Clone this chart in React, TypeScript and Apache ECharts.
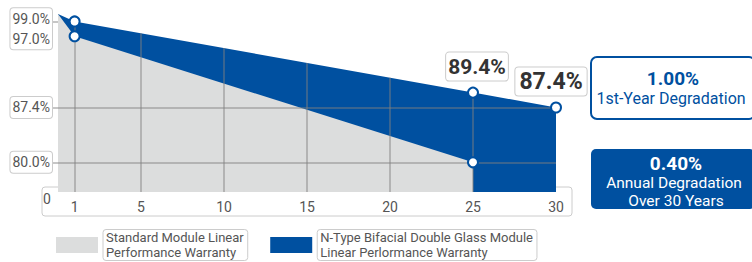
import React, { useEffect, useRef } from "react";
import * as echarts from "echarts";

const BLUE = "#0050a0";
const GRAY_AREA = "#dcdddd";
const GRID_COLOR = "rgba(128,128,128,0.6)";
const FONT = "Roboto, 'Noto Sans', sans-serif";

// ---- data ----
const nTypeYears = [0, 1, 25, 30];
const nTypeValues = [100, 99.0, 89.4, 87.4];
const standardYears = [0, 1, 25];
const standardValues = [100, 97.0, 80.0];
const nTypeLabelYears = [25, 30];

const xLabelValues = [1, 5, 10, 15, 20, 25, 30];
const xGridValues = [1, 5, 10, 15, 20, 25];
const yTickValues = [80.0, 87.4, 99.0];
const yGridValues = [80.0, 87.4];
const yLabelValues = [80.0, 87.4, 98.0];
const yLabelTexts = ["80.0%", "87.4%", "99.0%\n97.0%"];

const X_MIN = 0;
const X_MAX = 30;
const Y_MIN = 76;
const Y_MAX = 100;

const seriesNames = [
  "Standard Module Linear Performance Warranty",
  "N-Type Bifacial Double Glass Module Linear Perlormance Warranty",
];
const legendTexts = [
  "Standard Module Linear\nPerformance Warranty",
  "N-Type Bifacial Double Glass Module\nLinear Perlormance Warranty",
];

const infoFirstValue = "1.00%";
const infoFirstText = "1st-Year Degradation";
const infoAnnualValue = "0.40%";
const infoAnnualText = ["Annual Degradation", "Over 30 Years"];

function topOfArea(x: number): number {
  for (let i = 0; i < nTypeYears.length - 1; i++) {
    const x0 = nTypeYears[i];
    const x1 = nTypeYears[i + 1];
    if (x >= x0 && x <= x1) {
      const t = (x - x0) / (x1 - x0);
      return nTypeValues[i] + t * (nTypeValues[i + 1] - nTypeValues[i]);
    }
  }
  return nTypeValues[nTypeValues.length - 1];
}

export default function App() {
  const ref = useRef<HTMLDivElement>(null);

  useEffect(() => {
    document.body.style.margin = "0";
    if (!ref.current) return;
    const chart = echarts.init(ref.current, null, { renderer: "svg" });

    const nTypeData = nTypeYears.map((x, i) => [x, nTypeValues[i]]);
    const standardData = standardYears.map((x, i) => [x, standardValues[i]]);

    const gridLines: any[] = [];
    xGridValues.forEach((x) => {
      gridLines.push([{ coord: [x, Y_MIN] }, { coord: [x, topOfArea(x)] }]);
    });
    yGridValues.forEach((v) => {
      gridLines.push([{ coord: [X_MIN, v] }, { coord: [X_MAX, v] }]);
    });

    const pointData: any[] = [];
    nTypeYears.forEach((x, i) => {
      if (x === 0) return;
      const showLabel = nTypeLabelYears.includes(x);
      pointData.push({
        value: [x, nTypeValues[i]],
        label: showLabel
          ? {
              show: true,
              position: "top",
              distance: 6,
              offset: x === 30 ? [-5, 0] : [4, 0],
              formatter: nTypeValues[i].toFixed(1) + "%",
              fontSize: x === 30 ? 23 : 21,
              fontWeight: "bold",
              fontFamily: FONT,
              color: "#333",
              backgroundColor: "#fff",
              borderColor: "#cccccc",
              borderWidth: 1,
              borderRadius: 3,
              padding: x === 30 ? [2, 4, 1, 4] : [2, 2, 1, 2],
              lineHeight: 25,
            }
          : { show: false },
      });
    });
    standardYears.forEach((x, i) => {
      if (x === 0) return;
      pointData.push({ value: [x, standardValues[i]], label: { show: false } });
    });

    const option: any = {
      animation: false,
      grid: { left: 58, top: 14, width: 498, height: 178, containLabel: false },
      xAxis: {
        type: "value",
        min: X_MIN,
        max: X_MAX,
        axisLine: { show: false },
        axisTick: { show: false },
        splitLine: { show: false },
        axisLabel: {
          customValues: xLabelValues,
          fontSize: 14,
          fontFamily: FONT,
          color: "#555",
          margin: 8,
        },
      },
      yAxis: {
        type: "value",
        min: Y_MIN,
        max: Y_MAX,
        axisLine: { show: false },
        splitLine: { show: false },
        axisTick: {
          show: true,
          customValues: yTickValues,
          length: 5,
          lineStyle: { color: GRID_COLOR, width: 1.5 },
        },
        axisLabel: {
          customValues: yLabelValues,
          formatter: (v: number) => {
            const idx = yLabelValues.findIndex((y) => Math.abs(y - v) < 1e-6);
            return idx >= 0 ? yLabelTexts[idx] : "";
          },
          fontSize: 14,
          fontFamily: FONT,
          color: "#555",
          lineHeight: 20,
          margin: 6,
          backgroundColor: "#fff",
          borderColor: "#cccccc",
          borderWidth: 1,
          borderRadius: 3,
          padding: [1, 2, 0, 2],
        },
      },
      legend: {
        left: 56,
        top: 229,
        padding: 0,
        itemWidth: 42,
        itemHeight: 16,
        itemGap: 22,
        data: [
          { name: seriesNames[0], icon: "rect" },
          { name: seriesNames[1], icon: "rect" },
        ],
        formatter: (name: string) => legendTexts[seriesNames.indexOf(name)],
        textStyle: {
          fontSize: 13,
          fontFamily: FONT,
          color: "#555",
          lineHeight: 15,
          borderColor: "#cccccc",
          borderWidth: 1,
          borderRadius: 3,
          padding: [1, 4, 0, 3],
        },
        selectedMode: false,
      },
      graphic: [
        {
          type: "rect",
          z: 0,
          shape: { x: 42, y: 187, width: 530, height: 29, r: 3 },
          style: { fill: "#fff", stroke: "#cccccc", lineWidth: 1 },
        },
        {
          type: "text",
          z: 10,
          style: {
            text: "0",
            x: 47,
            y: 199,
            align: "center",
            verticalAlign: "middle",
            fontSize: 14,
            fontFamily: FONT,
            fill: "#555",
          },
        },
        {
          type: "rect",
          z: 10,
          shape: { x: 591, y: 57, width: 164, height: 62, r: 6 },
          style: { fill: "#fff", stroke: BLUE, lineWidth: 2 },
        },
        {
          type: "text",
          z: 11,
          style: {
            text: infoFirstValue,
            x: 673,
            y: 78,
            align: "center",
            verticalAlign: "middle",
            fontSize: 19,
            fontWeight: "bold",
            fontFamily: FONT,
            fill: BLUE,
          },
        },
        {
          type: "text",
          z: 11,
          style: {
            text: infoFirstText,
            x: 671,
            y: 98,
            align: "center",
            verticalAlign: "middle",
            fontSize: 16,
            fontFamily: FONT,
            fill: BLUE,
          },
        },
        {
          type: "rect",
          z: 10,
          shape: { x: 591, y: 149, width: 164, height: 60, r: 5 },
          style: { fill: BLUE },
        },
        {
          type: "text",
          z: 11,
          style: {
            text: infoAnnualValue,
            x: 676,
            y: 163,
            align: "center",
            verticalAlign: "middle",
            fontSize: 19,
            fontWeight: "bold",
            fontFamily: FONT,
            fill: "#fff",
          },
        },
        {
          type: "text",
          z: 11,
          style: {
            text: infoAnnualText[0],
            x: 674,
            y: 183,
            align: "center",
            verticalAlign: "middle",
            fontSize: 15.5,
            fontFamily: FONT,
            fill: "#fff",
          },
        },
        {
          type: "text",
          z: 11,
          style: {
            text: infoAnnualText[1],
            x: 676,
            y: 201,
            align: "center",
            verticalAlign: "middle",
            fontSize: 15.5,
            fontFamily: FONT,
            fill: "#fff",
          },
        },
      ],
      series: [
        {
          name: seriesNames[1],
          type: "line",
          z: 2,
          data: nTypeData,
          showSymbol: false,
          symbol: "none",
          itemStyle: { color: BLUE },
          lineStyle: { width: 0, color: BLUE },
          areaStyle: { color: BLUE, opacity: 1, origin: "start" },
          silent: true,
        },
        {
          name: seriesNames[0],
          type: "line",
          z: 3,
          data: standardData,
          showSymbol: false,
          symbol: "none",
          itemStyle: { color: GRAY_AREA },
          lineStyle: { width: 0, color: GRAY_AREA },
          areaStyle: { color: GRAY_AREA, opacity: 1, origin: "start" },
          silent: true,
        },
        {
          name: "grid",
          type: "line",
          z: 4,
          data: [],
          silent: true,
          markLine: {
            silent: true,
            symbol: ["none", "none"],
            label: { show: false },
            lineStyle: { color: GRID_COLOR, width: 1.5, type: "solid" },
            data: gridLines,
          },
        },
        {
          name: "points",
          type: "scatter",
          z: 5,
          symbol: "circle",
          symbolSize: 10,
          itemStyle: { color: "#fff", borderColor: BLUE, borderWidth: 2, opacity: 1 },
          data: pointData,
          silent: true,
        },
      ],
    };

    chart.setOption(option);
    return () => chart.dispose();
  }, []);

  return <div ref={ref} style={{ width: 752, height: 262 }} />;
}
